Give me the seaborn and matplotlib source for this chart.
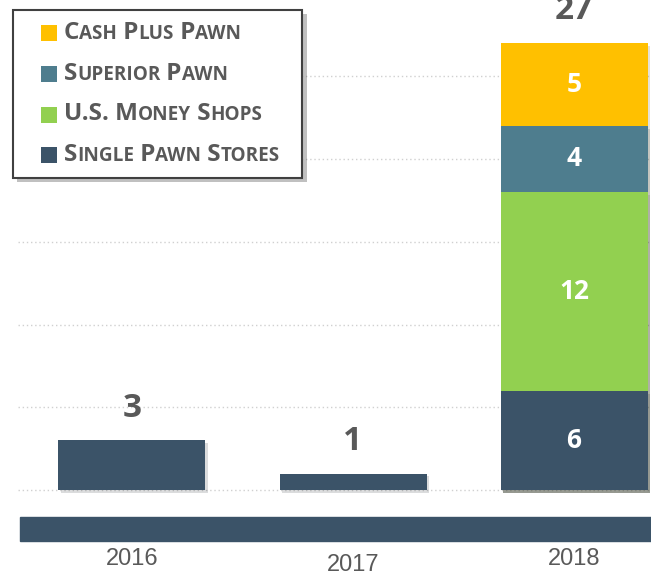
import matplotlib
matplotlib.use("Agg")
import matplotlib.patheffects as pe
import matplotlib.pyplot as plt
import pandas as pd
import seaborn as sns
from matplotlib.offsetbox import AnchoredOffsetbox, DrawingArea, HPacker, TextArea, VPacker
from matplotlib.patches import Rectangle

# data
years = ["2016", "2017", "2018"]
single_pawn = [3, 1, 6]
us_money = [0, 0, 12]
superior_pawn = [0, 0, 4]
cash_plus = [0, 0, 5]

series_names = ["Single Pawn Stores", "U.S. Money Shops", "Superior Pawn", "Cash Plus Pawn"]
series_values = [single_pawn, us_money, superior_pawn, cash_plus]
series_colors = ["#3b5368", "#92d050", "#4e7d8e", "#ffc000"]

TEXT_GREY = "#595959"

sns.set_theme(style="white")
plt.rcParams["font.family"] = ["Open Sans", "DejaVu Sans"]

rows = []
for name, vals in zip(series_names, series_values):
    for year, v in zip(years, vals):
        rows.append({"year": year, "series": name, "value": v})
df = pd.DataFrame(rows)
df["top"] = df.groupby("year")["value"].cumsum()
df["bottom"] = df["top"] - df["value"]
totals = df.groupby("year")["value"].sum()

fig = plt.figure(figsize=(6.51, 5.79), dpi=100)
ax = fig.add_axes([0, 0, 1, 1])

# dotted grid
for y in range(0, 30, 5):
    ax.axhline(y, xmin=0.027, color="#d0d0d0", lw=1, ls=(0, (1, 2)), zorder=0)

# stacked bars: draw cumulative tops, tallest first
shadow = [pe.SimplePatchShadow(offset=(2, -2), alpha=0.15), pe.Normal()]
for name, color in reversed(list(zip(series_names, series_colors))):
    sub = df[(df["series"] == name) & (df["value"] > 0)]
    sns.barplot(data=sub, x="year", y="top", order=years, color=color,
                saturation=1, width=0.665, errorbar=None, linewidth=0, ax=ax, zorder=2)
for bar in ax.patches:
    bar.set_path_effects(shadow)

# labels inside the stacked column
nonzero = df[df["value"] > 0]
counts = nonzero.groupby("year")["value"].count()
for _, r in nonzero.iterrows():
    if counts[r["year"]] > 1:
        ax.text(years.index(r["year"]), r["bottom"] + r["value"] / 2, str(r["value"]),
                ha="center", va="center", color="white", fontsize=19,
                fontweight="bold", zorder=3)

# totals above bars
for i, year in enumerate(years):
    ax.text(i, totals[year] + 1.95, str(totals[year]), ha="center", va="center",
            color=TEXT_GREY, fontsize=24, fontweight="bold", zorder=3)

# axis band and year labels
ax.axhspan(-3.08, -1.63, xmin=20 / 651, xmax=1, color=series_colors[0], zorder=2)
label_y = {"2016": -4.15, "2017": -4.55, "2018": -4.15}
for i, year in enumerate(years):
    ax.text(i, label_y[year], year, ha="center", va="center", color=TEXT_GREY,
            fontsize=17, family=["Liberation Sans", "DejaVu Sans"])

ax.set_xlim(-0.597, 2.348)
ax.set_ylim(-5.37, 29.6)
ax.set_axis_off()


# legend in small caps
def small_caps(label, big=17.5, small=13.6):
    runs = []
    for ch in label:
        is_small = ch.islower()
        if runs and runs[-1][0] == is_small:
            runs[-1][1] += ch
        else:
            runs.append([is_small, ch])
    parts = [TextArea(txt.upper(), textprops=dict(size=small if low else big,
                                                  weight="bold", color=TEXT_GREY))
             for low, txt in runs]
    return HPacker(children=parts, align="baseline", pad=0, sep=0)


entries = []
for name, color in reversed(list(zip(series_names, series_colors))):
    da = DrawingArea(24, 12, 0, 0)
    da.add_artist(Rectangle((12.5, 0), 11.5, 11.5, facecolor=color, edgecolor="none"))
    entries.append(HPacker(children=[da, small_caps(name)], align="center", pad=0, sep=4.5))
box = VPacker(children=entries, align="left", pad=0, sep=12.0)
outer = HPacker(children=[box, DrawingArea(8, 1)], align="top", pad=8, sep=0)
legend = AnchoredOffsetbox(loc="upper left", child=outer, pad=0, borderpad=0, frameon=True,
                           bbox_to_anchor=(13 / 651, 1 - 10 / 579),
                           bbox_transform=fig.transFigure)
legend.patch.set_edgecolor("#404040")
legend.patch.set_linewidth(1.5)
legend.patch.set_boxstyle("square", pad=0)
legend.patch.set_path_effects([pe.SimplePatchShadow(offset=(3, -3), alpha=0.35), pe.Normal()])
legend.set_zorder(5)
ax.add_artist(legend)

fig.savefig("out.png", dpi=100)
